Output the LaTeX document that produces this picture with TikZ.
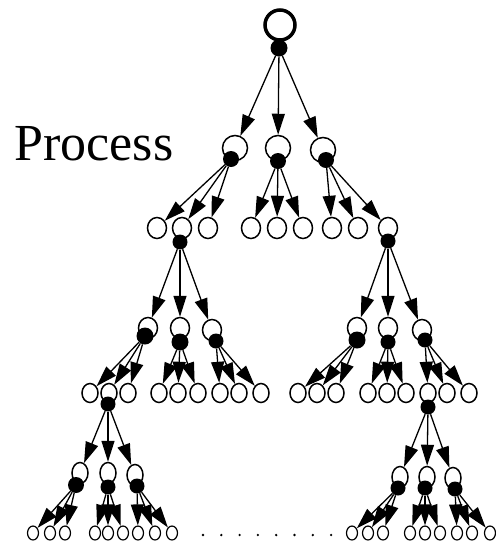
\documentclass[tikz,border=0pt]{standalone}
\usepackage{fontspec}
\setmainfont{Liberation Serif}
\usepackage{tikz}
\usetikzlibrary{arrows.meta,shapes.geometric}

\begin{document}
\begin{tikzpicture}[
    x=1pt, y=-1pt,
    proc/.style={draw, ellipse, line width=1.5pt, inner sep=0pt, minimum width=19pt, minimum height=21pt},
    big/.style={proc, minimum width=25pt, minimum height=25pt},
    leaf/.style={proc, minimum width=16pt, minimum height=19pt},
    tiny/.style={proc, line width=1.2pt, minimum width=11pt, minimum height=14pt},
    dot/.style={circle, fill, inner sep=0pt, minimum size=15pt},
    arr/.style={-{Triangle[length=21pt, width=13pt]}, line width=1.3pt}
]
\useasboundingbox (0,0) rectangle (496,542);

\node[anchor=base, font=\fontsize{52}{52}\selectfont] (lbl) at (94,160) {Process};

% root
\node[circle, draw, line width=3.5pt, minimum size=30pt, inner sep=0pt] (root) at (280,25) {};
\node[dot, minimum size=17pt] (rootd) at (279,48) {};

% first level
\node[big] (p1) at (235,148) {};
\node[big] (p2) at (278,148) {};
\node[big] (p3) at (323,150) {};
\node[dot, minimum size=16pt] (p1d) at (231,159) {};
\node[dot, minimum size=16pt] (p2d) at (278,161) {};
\node[dot, minimum size=16pt] (p3d) at (326,160) {};
\draw[arr] (rootd) -- (p1);
\draw[arr] (rootd) -- (p2);
\draw[arr] (rootd) -- (p3);

% second level
\foreach \x [count=\i] in {157,182,208} {
  \node[proc] (q\i) at (\x,228) {};
  \draw[arr] (p1d) -- (q\i);
}
\foreach \x [count=\i from 4] in {251,277,303} {
  \node[proc] (q\i) at (\x,228) {};
  \draw[arr] (p2d) -- (q\i);
}
\foreach \x [count=\i from 7] in {332,358,388} {
  \node[proc] (q\i) at (\x,228) {};
  \draw[arr] (p3d) -- (q\i);
}
\node[dot] (q2d) at (180,242) {};
\node[dot] (q9d) at (388,241) {};

% third level
\node[proc] (s1) at (148,328) {};
\node[proc] (s2) at (180,328) {};
\node[proc] (s3) at (212,330) {};
\node[proc] (t1) at (357,328) {};
\node[proc] (t2) at (388,328) {};
\node[proc] (t3) at (422,330) {};
\node[dot, minimum size=17pt] (s1d) at (145,336) {};
\node[dot, minimum size=17pt] (s2d) at (180,342) {};
\node[dot] (s3d) at (216,341) {};
\node[dot, minimum size=17pt] (t1d) at (357,340) {};
\node[dot] (t2d) at (388,342) {};
\node[dot] (t3d) at (425,340) {};
\foreach \n in {s1,s2,s3} \draw[arr] (q2d) -- (\n);
\foreach \n in {t1,t2,t3} \draw[arr] (q9d) -- (\n);

% fourth level
\foreach \p/\xa/\xb/\xc in {s1/90/109/128, s2/159/178/198, s3/220/239/261,
                           t1/298/317/336, t2/368/387/406, t3/428/447/469} {
  \foreach \x [count=\i] in {\xa,\xb,\xc} {
    \node[leaf] (\p\i) at (\x,393) {};
    \draw[arr] (\p d) -- (\p\i);
  }
}
\node[dot] (s12d) at (108,404) {};
\node[dot] (t31d) at (428,407) {};

% fifth level
\node[leaf, minimum height=21pt] (u1) at (80,473) {};
\node[leaf, minimum height=21pt] (u2) at (108,473) {};
\node[leaf, minimum height=21pt] (u3) at (135,475) {};
\node[leaf, minimum height=21pt] (v1) at (400,477) {};
\node[leaf, minimum height=21pt] (v2) at (427,477) {};
\node[leaf, minimum height=21pt] (v3) at (453,478) {};
\node[dot, minimum size=16pt] (u1d) at (76,485) {};
\node[dot] (u2d) at (108,487) {};
\node[dot] (u3d) at (137,486) {};
\node[dot] (v1d) at (398,488) {};
\node[dot] (v2d) at (425,488) {};
\node[dot] (v3d) at (455,489) {};
\foreach \n in {u1,u2,u3} \draw[arr] (s12d) -- (\n);
\foreach \n in {v1,v2,v3} \draw[arr] (t31d) -- (\n);

% sixth level
\foreach \p/\xa/\xb/\xc in {u1/33/50/65, u2/95/108/123, u3/138/155/172,
                           v1/352/368/383, v2/410/425/440, v3/457/472/490} {
  \foreach \x [count=\i] in {\xa,\xb,\xc} {
    \node[tiny] (\p\i) at (\x,533) {};
    \draw[arr] (\p d) -- (\p\i);
  }
}

% more processes
\foreach \k in {0,...,7} \fill (203+18.3*\k,535) circle (1.3);
\end{tikzpicture}
\end{document}
